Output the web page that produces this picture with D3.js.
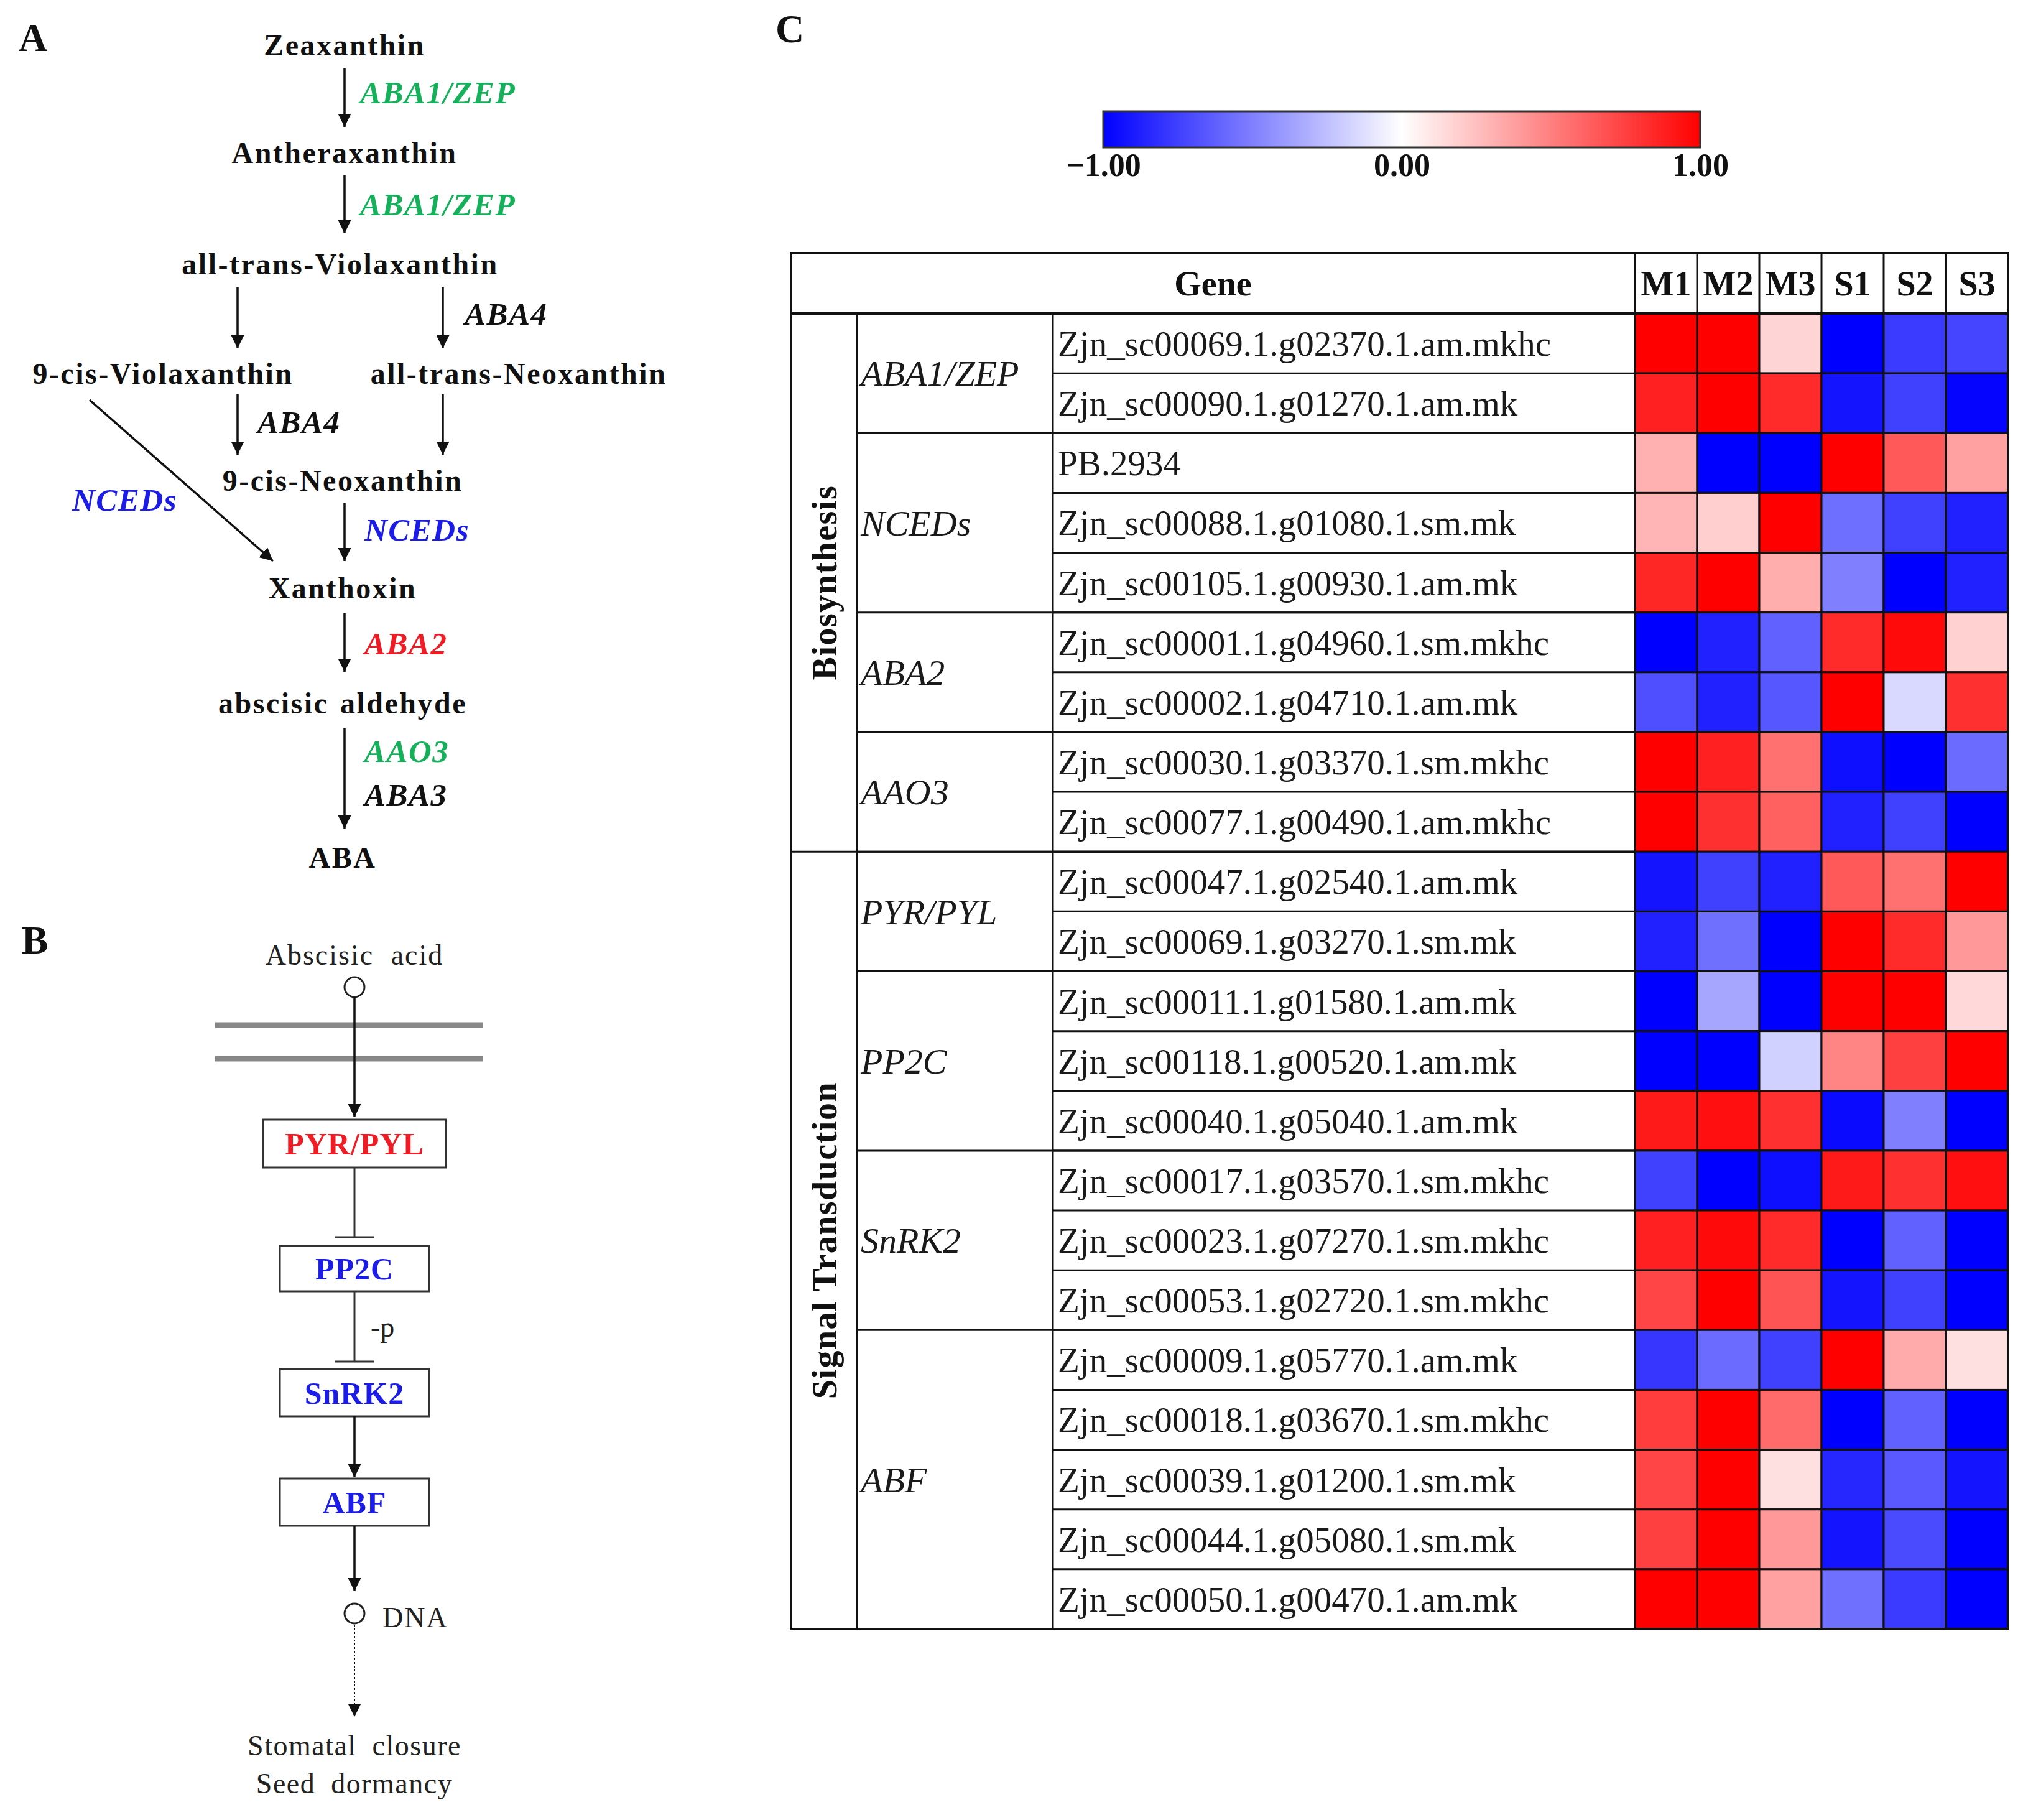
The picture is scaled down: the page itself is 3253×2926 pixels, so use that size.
<!DOCTYPE html>
<html lang="en">
<head>
    <title>ABA pathway and expression heatmap</title>
    <meta charset="UTF-8">
    <script src="https://d3js.org/d3.v7.min.js"></script>
    <style>
        body {
            margin: 0;
            padding: 0;
            background: #fff;
        }

        svg text {
            font-family: "Liberation Serif", "Times New Roman", serif;
        }
    </style>
</head>
<body>
<svg id="fig" width="3253" height="2926" xmlns="http://www.w3.org/2000/svg"></svg>
<script>
    // heatmap data (rows follow the table order)
    var samples = ['M1', 'M2', 'M3', 'S1', 'S2', 'S3'];
    var genes = [
        'Zjn_sc00069.1.g02370.1.am.mkhc', 'Zjn_sc00090.1.g01270.1.am.mk',
        'PB.2934', 'Zjn_sc00088.1.g01080.1.sm.mk', 'Zjn_sc00105.1.g00930.1.am.mk',
        'Zjn_sc00001.1.g04960.1.sm.mkhc', 'Zjn_sc00002.1.g04710.1.am.mk',
        'Zjn_sc00030.1.g03370.1.sm.mkhc', 'Zjn_sc00077.1.g00490.1.am.mkhc',
        'Zjn_sc00047.1.g02540.1.am.mk', 'Zjn_sc00069.1.g03270.1.sm.mk',
        'Zjn_sc00011.1.g01580.1.am.mk', 'Zjn_sc00118.1.g00520.1.am.mk', 'Zjn_sc00040.1.g05040.1.am.mk',
        'Zjn_sc00017.1.g03570.1.sm.mkhc', 'Zjn_sc00023.1.g07270.1.sm.mkhc', 'Zjn_sc00053.1.g02720.1.sm.mkhc',
        'Zjn_sc00009.1.g05770.1.am.mk', 'Zjn_sc00018.1.g03670.1.sm.mkhc', 'Zjn_sc00039.1.g01200.1.sm.mk',
        'Zjn_sc00044.1.g05080.1.sm.mk', 'Zjn_sc00050.1.g00470.1.am.mk'
    ];
    var families = ['ABA1/ZEP', 'NCEDs', 'ABA2', 'AAO3', 'PYR/PYL', 'PP2C', 'SnRK2', 'ABF'];
    var familySizes = [2, 3, 2, 2, 2, 3, 3, 5];
    var groups = ['Biosynthesis', 'Signal Transduction'];
    var groupSizes = [9, 13];

    var M1 = [1.0, 0.87, 0.31, 0.29, 0.85, -1.0, -0.69, 1.0, 1.0, -0.92, -0.87, -1.0, -1.0, 0.9, -0.75, 0.87, 0.73, -0.79, 0.76, 0.73, 0.75, 1.0];
    var M2 = [1.0, 1.0, -1.0, 0.19, 1.0, -0.87, -0.87, 0.87, 0.81, -0.75, -0.56, -0.35, -1.0, 0.94, -1.0, 0.96, 1.0, -0.58, 1.0, 1.0, 1.0, 1.0];
    var M3 = [0.17, 0.83, -1.0, 1.0, 0.32, -0.62, -0.66, 0.56, 0.62, -0.87, -1.0, -1.0, -0.18, 0.81, -0.94, 0.83, 0.67, -0.75, 0.58, 0.12, 0.4, 0.37];
    var S1 = [-1.0, -0.92, 1.0, -0.57, -0.5, 0.83, 1.0, -0.94, -0.87, 0.65, 1.0, 1.0, 0.48, -0.96, 0.9, -1.0, -0.92, 1.0, -1.0, -0.85, -0.92, -0.56];
    var S2 = [-0.77, -0.75, 0.65, -0.75, -1.0, 0.96, -0.15, -1.0, -0.75, 0.56, 0.83, 1.0, 0.75, -0.5, 0.81, -0.62, -0.75, 0.33, -0.62, -0.65, -0.71, -0.77];
    var S3 = [-0.73, -0.98, 0.37, -0.87, -0.87, 0.18, 0.81, -0.58, -1.0, 1.0, 0.4, 0.15, 1.0, -1.0, 0.94, -1.0, -1.0, 0.12, -1.0, -0.92, -1.0, -1.0];
    var legendTicks = [-1, 0, 1];

    (function () {
        var series = {M1: M1, M2: M2, M3: M3, S1: S1, S2: S2, S3: S3};
        var svg = d3.select('#fig');
        var GREEN = '#14b05a', BLUE = '#1c1ce8', RED = '#ee1c24', INK = '#111';

        svg.append('defs').append('marker')
            .attr('id', 'head')
            .attr('viewBox', '0 0 10 10')
            .attr('refX', 10).attr('refY', 5)
            .attr('markerWidth', 21).attr('markerHeight', 21)
            .attr('markerUnits', 'userSpaceOnUse')
            .attr('orient', 'auto')
            .append('path').attr('d', 'M0,0 L10,5 L0,10 z').attr('fill', INK);

        function label(g, txt, x, y, opt) {
            opt = opt || {};
            return g.append('text')
                .attr('x', x).attr('y', y).attr('dy', '0.35em')
                .attr('text-anchor', opt.anchor || 'middle')
                .attr('font-size', opt.size || 48)
                .attr('font-weight', opt.weight || 'bold')
                .attr('font-style', opt.italic ? 'italic' : null)
                .attr('letter-spacing', opt.ls || null)
                .attr('word-spacing', opt.ws || null)
                .attr('fill', opt.color || INK)
                .text(txt);
        }

        function arrow(g, x1, y1, x2, y2, dash) {
            g.append('line')
                .attr('x1', x1).attr('y1', y1).attr('x2', x2).attr('y2', y2)
                .attr('stroke', INK).attr('stroke-width', 3.5)
                .attr('stroke-dasharray', dash || null)
                .attr('marker-end', 'url(#head)');
        }

        // ---------- panel A: biosynthesis pathway ----------
        var a = svg.append('g');
        label(a, 'A', 53, 60, {size: 64});
        var compounds = [
            ['Zeaxanthin', 554, 72], ['Antheraxanthin', 554, 245], ['all-trans-Violaxanthin', 547, 424],
            ['9-cis-Violaxanthin', 262, 600], ['all-trans-Neoxanthin', 834, 600], ['9-cis-Neoxanthin', 551, 772],
            ['Xanthoxin', 551, 945], ['abscisic aldehyde', 551, 1130], ['ABA', 551, 1378]
        ];
        compounds.forEach(function (c) {
            label(a, c[0], c[1], c[2], {ls: 2.5, ws: 4});
        });
        var enzymes = [
            ['ABA1/ZEP', 579, 148, GREEN], ['ABA1/ZEP', 579, 328, GREEN], ['ABA4', 747, 504, INK],
            ['ABA4', 414, 678, INK], ['NCEDs', 116, 803, BLUE], ['NCEDs', 586, 851, BLUE],
            ['ABA2', 586, 1034, RED], ['AAO3', 586, 1207, GREEN], ['ABA3', 586, 1277, INK]
        ];
        enzymes.forEach(function (e) {
            label(a, e[0], e[1], e[2], {anchor: 'start', italic: true, color: e[3], size: 51, ls: 1.5});
        });
        [[554, 109, 554, 204], [554, 282, 554, 375], [382, 461, 382, 560], [712, 461, 712, 560],
            [382, 634, 382, 731], [712, 634, 712, 731], [144, 643, 439, 902], [554, 809, 554, 902],
            [554, 985, 554, 1080], [554, 1170, 554, 1332]].forEach(function (s) {
            arrow(a, s[0], s[1], s[2], s[3]);
        });

        // ---------- panel B: signal transduction ----------
        var b = svg.append('g');
        var cx = 570;
        label(b, 'B', 56, 1511, {size: 64});
        label(b, 'Abscisic acid', cx, 1535, {weight: 'normal', size: 46, ls: 2, ws: 14, color: '#222'});
        b.append('circle').attr('cx', cx).attr('cy', 1587).attr('r', 16)
            .attr('fill', '#fff').attr('stroke', '#222').attr('stroke-width', 3);
        [1648, 1702].forEach(function (y) {
            b.append('line').attr('x1', 346).attr('x2', 776).attr('y1', y).attr('y2', y)
                .attr('stroke', '#888').attr('stroke-width', 9);
        });
        arrow(b, cx, 1603, cx, 1796);
        var boxes = [
            ['PYR/PYL', 423, 717, 1800, 1877, RED], ['PP2C', 450, 690, 2003, 2076, BLUE],
            ['SnRK2', 450, 690, 2201, 2277, BLUE], ['ABF', 450, 690, 2377, 2453, BLUE]
        ];
        boxes.forEach(function (bx) {
            b.append('rect').attr('x', bx[1]).attr('y', bx[3])
                .attr('width', bx[2] - bx[1]).attr('height', bx[4] - bx[3])
                .attr('fill', '#fff').attr('stroke', '#333').attr('stroke-width', 3);
            label(b, bx[0], (bx[1] + bx[2]) / 2, (bx[3] + bx[4]) / 2, {size: 50, color: bx[5], ls: 1});
        });
        // inhibition bars
        [[1877, 1989], [2076, 2189]].forEach(function (s) {
            b.append('line').attr('x1', cx).attr('x2', cx).attr('y1', s[0]).attr('y2', s[1])
                .attr('stroke', '#333').attr('stroke-width', 3);
            b.append('line').attr('x1', cx - 31).attr('x2', cx + 31).attr('y1', s[1]).attr('y2', s[1])
                .attr('stroke', '#333').attr('stroke-width', 3);
        });
        label(b, '-p', 596, 2133, {anchor: 'start', weight: 'normal', size: 46, color: '#222'});
        arrow(b, cx, 2277, cx, 2375);
        arrow(b, cx, 2453, cx, 2558);
        b.append('circle').attr('cx', cx).attr('cy', 2594).attr('r', 16)
            .attr('fill', '#fff').attr('stroke', '#222').attr('stroke-width', 3);
        label(b, 'DNA', 615, 2600, {anchor: 'start', weight: 'normal', size: 46, ls: 2, color: '#222'});
        c0 = b.append('line').attr('x1', cx).attr('x2', cx).attr('y1', 2612).attr('y2', 2760)
            .attr('stroke', INK).attr('stroke-width', 2).attr('stroke-dasharray', '3,3')
            .attr('marker-end', 'url(#head)');
        label(b, 'Stomatal closure', cx, 2806, {weight: 'normal', size: 46, ls: 1.5, ws: 12, color: '#222'});
        label(b, 'Seed dormancy', cx, 2867, {weight: 'normal', size: 46, ls: 1.5, ws: 12, color: '#222'});

        // ---------- panel C: heatmap table ----------
        var c = svg.append('g');
        label(c, 'C', 1270, 46, {size: 64});

        var left = 1272, top = 407, headBottom = 504, bottom = 2619;
        var groupRight = 1378, familyRight = 1693, heatLeft = 2629, heatRight = 3229;

        var color = d3.scaleLinear().domain([-1, 0, 1]).range(['#0000ff', '#ffffff', '#ff0000']);
        var x = d3.scaleBand().domain(samples).range([heatLeft, heatRight]);
        var y = d3.scaleBand().domain(genes).range([headBottom, bottom]);

        // colour legend
        var lx = d3.scaleLinear().domain([-1, 1]).range([1774, 2734]);
        var grad = svg.select('defs').append('linearGradient').attr('id', 'ramp');
        d3.range(0, 1.0001, 0.1).forEach(function (t) {
            grad.append('stop').attr('offset', t).attr('stop-color', color(-1 + 2 * t));
        });
        c.append('rect').attr('x', lx(-1)).attr('y', 179)
            .attr('width', lx(1) - lx(-1)).attr('height', 58)
            .attr('fill', 'url(#ramp)').attr('stroke', '#333').attr('stroke-width', 3);
        var legendAxis = c.append('g').attr('transform', 'translate(0,242)')
            .call(d3.axisBottom(lx).tickValues(legendTicks).tickFormat(d3.format('.2f')).tickSize(0).tickPadding(4));
        legendAxis.select('.domain').remove();
        legendAxis.selectAll('text')
            .attr('font-family', '"Liberation Serif", serif')
            .attr('font-size', 52).attr('font-weight', 'bold').attr('fill', INK);

        // header
        label(c, 'Gene', (left + heatLeft) / 2, (top + headBottom) / 2, {size: 56});
        c.selectAll('.samp').data(samples).enter().append('text')
            .attr('class', 'samp')
            .attr('x', function (d) { return x(d) + x.bandwidth() / 2; })
            .attr('y', (top + headBottom) / 2).attr('dy', '0.35em')
            .attr('text-anchor', 'middle').attr('font-size', 56).attr('font-weight', 'bold')
            .attr('fill', INK).text(function (d) { return d; });

        // heat cells
        var cells = [];
        genes.forEach(function (g, i) {
            samples.forEach(function (s) {
                cells.push({gene: g, sample: s, value: series[s][i]});
            });
        });
        c.selectAll('.cell').data(cells).enter().append('rect')
            .attr('class', 'cell')
            .attr('x', function (d) { return x(d.sample); })
            .attr('y', function (d) { return y(d.gene); })
            .attr('width', x.bandwidth()).attr('height', y.bandwidth())
            .attr('fill', function (d) { return color(d.value); })
            .attr('stroke', '#111').attr('stroke-width', 3);

        // gene ids
        c.selectAll('.gene').data(genes).enter().append('text')
            .attr('class', 'gene')
            .attr('x', familyRight + 8)
            .attr('y', function (d) { return y(d) + y.bandwidth() / 2; }).attr('dy', '0.35em')
            .attr('font-size', 57).attr('fill', '#1a1a1a')
            .text(function (d) { return d; });

        function hline(x1, x2, yy, w) {
            c.append('line').attr('x1', x1).attr('x2', x2).attr('y1', yy).attr('y2', yy)
                .attr('stroke', '#111').attr('stroke-width', w || 3);
        }
        function vline(xx, y1, y2) {
            c.append('line').attr('x1', xx).attr('x2', xx).attr('y1', y1).attr('y2', y2)
                .attr('stroke', '#111').attr('stroke-width', 3);
        }

        genes.forEach(function (g) { hline(familyRight, heatLeft, y(g)); });

        // family blocks
        var start = 0;
        families.forEach(function (f, i) {
            var y0 = y(genes[start]);
            var y1 = y(genes[start + familySizes[i] - 1]) + y.bandwidth();
            hline(groupRight, heatLeft, y0);
            label(c, f, groupRight + 6, (y0 + y1) / 2, {anchor: 'start', weight: 'normal', italic: true, size: 58, color: '#1a1a1a'});
            start += familySizes[i];
        });

        // group blocks
        start = 0;
        groups.forEach(function (gname, i) {
            var y0 = y(genes[start]);
            var y1 = y(genes[start + groupSizes[i] - 1]) + y.bandwidth();
            hline(left, heatLeft, y0);
            var cy = (y0 + y1) / 2, gx = (left + groupRight) / 2;
            c.append('text')
                .attr('transform', 'translate(' + gx + ',' + cy + ') rotate(-90)')
                .attr('dy', '0.35em').attr('text-anchor', 'middle')
                .attr('font-size', 56).attr('font-weight', 'bold').attr('letter-spacing', 1.5)
                .attr('fill', INK).text(gname);
            start += groupSizes[i];
        });

        vline(groupRight, headBottom, bottom);
        vline(familyRight, headBottom, bottom);
        samples.forEach(function (s) { vline(x(s), top, headBottom); });
        c.append('rect').attr('x', left).attr('y', top)
            .attr('width', heatRight - left).attr('height', bottom - top)
            .attr('fill', 'none').attr('stroke', '#111').attr('stroke-width', 4);
        hline(left, heatRight, headBottom, 4);
    })();
</script>
</body>
</html>
